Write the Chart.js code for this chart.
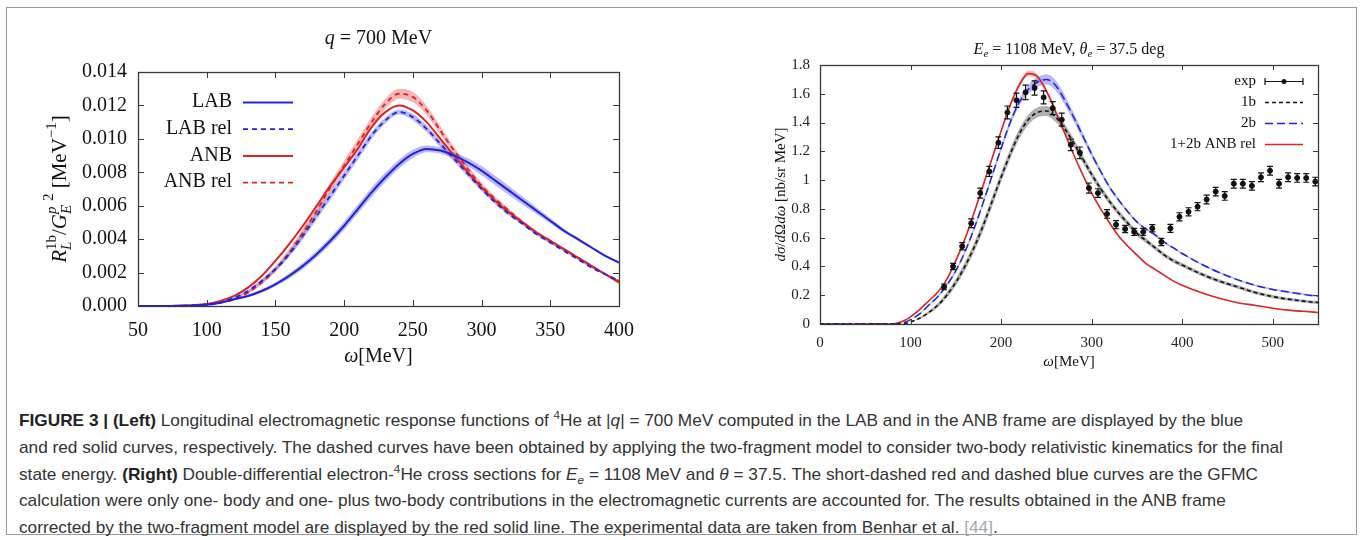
<!DOCTYPE html>
<html>
<head>
<meta charset="utf-8">
<script src="https://cdn.jsdelivr.net/npm/chart.js@4"></script>
<style>
  body { margin: 0; background: #fff; width: 1362px; height: 540px; position: relative; overflow: hidden; }
  #frame { position: absolute; left: 6px; top: 7px; width: 1349px; height: 526px; border: 1px solid #9a9a9a; }
  #left { position: absolute; left: 0; top: 0; }
  #right { position: absolute; left: 681px; top: 0; }
  #caption { position: absolute; left: 19px; top: 408px; font-family: "Liberation Sans", Arial, sans-serif;
             font-size: 17px; color: #333; line-height: 26.8px; transform-origin: 0 0; }
  #caption div { white-space: nowrap; }
  #caption b { color: #222; }
  #caption sup, #caption sub { font-size: 0.68em; line-height: 0; }
  .ref { color: #9aaabb; }
</style>
</head>
<body>
<div id="frame"></div>
<canvas id="left" width="681" height="390"></canvas>
<canvas id="right" width="681" height="390"></canvas>
<div id="caption">
  <div><span id="capLine1"><b>FIGURE 3 | (Left)</b> Longitudinal electromagnetic response functions of <sup>4</sup>He at |<i>q</i>| = 700 MeV computed in the LAB and in the ANB frame are displayed by the blue</span></div>
  <div>and red solid curves, respectively. The dashed curves have been obtained by applying the two-fragment model to consider two-body relativistic kinematics for the final</div>
  <div>state energy. <b>(Right)</b> Double-differential electron-<sup>4</sup>He cross sections for <i>E<sub>e</sub></i> = 1108 MeV and <i>θ</i> = 37.5. The short-dashed red and dashed blue curves are the GFMC</div>
  <div>calculation were only one- body and one- plus two-body contributions in the electromagnetic currents are accounted for. The results obtained in the ANB frame</div>
  <div>corrected by the two-fragment model are displayed by the red solid line. The experimental data are taken from Benhar et al. <span class="ref">[44]</span>.</div>
</div>
<script>
// left panel: q = 700 MeV, response functions
const leftOmega = [50, 60, 70, 80, 90, 100, 110, 120, 130, 140, 150, 160, 170, 180, 190, 200, 210, 220,
                   230, 240, 250, 260, 270, 280, 290, 300, 310, 320, 330, 340, 350, 360, 370, 380, 390, 400];
const labSolid = [0, 0, 0, 0.00001, 0.00003, 0.00008, 0.0002, 0.0004, 0.0006, 0.0009, 0.0013, 0.0018, 0.0024, 0.0031,
                  0.0039, 0.0048, 0.0058, 0.0068, 0.0077, 0.0085, 0.0091, 0.0094, 0.0093, 0.0090, 0.0086, 0.0081,
                  0.0075, 0.0069, 0.0063, 0.0057, 0.0051, 0.0045, 0.0040, 0.0035, 0.0030, 0.0026];
const labRel = [0, 0, 0, 0.00001, 0.00003, 0.0001, 0.0002, 0.0005, 0.0009, 0.0015, 0.0022, 0.0031, 0.0042, 0.0054,
                0.0066, 0.0078, 0.0090, 0.0102, 0.0111, 0.0116, 0.0113, 0.0106, 0.0097, 0.0088, 0.0079, 0.0070,
                0.0062, 0.0055, 0.0049, 0.0043, 0.0038, 0.0033, 0.0028, 0.0023, 0.0019, 0.0015];
const anbSolid = [0, 0, 0, 0.00002, 0.00005, 0.00012, 0.0003, 0.0006, 0.0011, 0.0018, 0.0027, 0.0037, 0.0048, 0.0060,
                  0.0072, 0.0083, 0.0094, 0.0107, 0.0116, 0.0120, 0.0117, 0.0110, 0.0100, 0.0090, 0.0080, 0.0071,
                  0.0063, 0.0056, 0.0050, 0.0044, 0.0039, 0.0034, 0.0029, 0.0024, 0.0019, 0.0014];
const anbRel = [0, 0, 0, 0.00001, 0.00003, 0.00008, 0.0002, 0.0004, 0.0008, 0.0014, 0.0022, 0.0032, 0.0044, 0.0057,
                0.0071, 0.0084, 0.0097, 0.0110, 0.0121, 0.0127, 0.0125, 0.0117, 0.0105, 0.0093, 0.0082, 0.0072,
                0.0064, 0.0057, 0.0050, 0.0044, 0.0039, 0.0034, 0.0029, 0.0024, 0.0019, 0.0015];
// half widths of the uncertainty bands
const labSolidErr = [0, 0, 0, 0, 0, 0, 0.00003, 0.00005, 0.00008, 0.0001, 0.00012, 0.00015, 0.00018, 0.0002, 0.00022,
                     0.00025, 0.00027, 0.00028, 0.00028, 0.00027, 0.00025, 0.0002, 0.00018, 0.0002, 0.00024, 0.00027,
                     0.00028, 0.00027, 0.00024, 0.0002, 0.00016, 0.00012, 0.0001, 0.00008, 0.00006, 0.00005];
const labRelErr = [0, 0, 0, 0, 0, 0, 0.00002, 0.00004, 0.00006, 0.0001, 0.00013, 0.00016, 0.0002, 0.00022, 0.00024,
                   0.00025, 0.00025, 0.00022, 0.00018, 0.00015, 0.00018, 0.0002, 0.0002, 0.00018, 0.00016, 0.00014,
                   0.00012, 0.0001, 0.00009, 0.00008, 0.00007, 0.00006, 0.00005, 0.00005, 0.00004, 0.00004];
const anbRelErr = [0, 0, 0, 0, 0, 0, 0.00002, 0.00005, 0.00008, 0.00012, 0.00016, 0.0002, 0.00024, 0.00027, 0.0003,
                   0.0003, 0.0003, 0.0003, 0.0003, 0.0003, 0.0003, 0.00028, 0.00025, 0.00022, 0.0002, 0.00017,
                   0.00014, 0.00012, 0.0001, 0.00009, 0.00008, 0.00007, 0.00006, 0.00006, 0.00005, 0.00005];

// right panel: cross sections, E_e = 1108 MeV
const rightOmega = [0, 20, 40, 60, 80, 90, 100, 110, 120, 130, 140, 150, 160, 170, 180, 190, 200, 210, 220, 230, 240,
                    250, 260, 270, 280, 290, 300, 310, 320, 330, 340, 350, 360, 370, 380, 390, 400,
                    420, 440, 460, 480, 500, 520, 540, 550];
const xs1b = [0, 0, 0, 0, 0, 0, 0.015, 0.04, 0.08, 0.13, 0.20, 0.29, 0.40, 0.53, 0.68, 0.85, 1.02, 1.18, 1.32, 1.42,
              1.47, 1.48, 1.44, 1.36, 1.26, 1.15, 1.04, 0.94, 0.85, 0.77, 0.70, 0.63, 0.58, 0.53, 0.48, 0.44, 0.41,
              0.35, 0.30, 0.26, 0.22, 0.19, 0.17, 0.155, 0.15];
const xs2b = [0, 0, 0, 0, 0, 0.005, 0.03, 0.07, 0.13, 0.19, 0.27, 0.37, 0.50, 0.66, 0.84, 1.03, 1.22, 1.40, 1.54, 1.63,
              1.68, 1.70, 1.66, 1.56, 1.44, 1.31, 1.18, 1.06, 0.95, 0.86, 0.78, 0.71, 0.66, 0.62, 0.57, 0.53, 0.49,
              0.42, 0.36, 0.31, 0.27, 0.24, 0.22, 0.20, 0.195];
const xsAnbRel = [0, 0, 0, 0, 0, 0.015, 0.05, 0.10, 0.16, 0.22, 0.31, 0.44, 0.59, 0.77, 0.96, 1.15, 1.34, 1.52, 1.66, 1.74,
                  1.72, 1.62, 1.48, 1.33, 1.18, 1.04, 0.91, 0.80, 0.70, 0.61, 0.54, 0.48, 0.42, 0.38, 0.34, 0.30, 0.27,
                  0.22, 0.18, 0.15, 0.13, 0.11, 0.095, 0.085, 0.08];
const xs1bErr = [0, 0, 0, 0, 0, 0, 0, 0.005, 0.01, 0.015, 0.02, 0.025, 0.03, 0.032, 0.035, 0.035, 0.035, 0.035, 0.035,
                 0.035, 0.035, 0.035, 0.035, 0.033, 0.03, 0.028, 0.025, 0.023, 0.021, 0.02, 0.019, 0.018, 0.017, 0.016,
                 0.015, 0.015, 0.014, 0.013, 0.012, 0.012, 0.011, 0.011, 0.01, 0.01, 0.01];
const xs2bErr = [0, 0, 0, 0, 0, 0, 0, 0.004, 0.006, 0.008, 0.01, 0.012, 0.014, 0.015, 0.016, 0.018, 0.02, 0.022, 0.026,
                 0.03, 0.034, 0.036, 0.036, 0.034, 0.03, 0.025, 0.02, 0.016, 0.013, 0.011, 0.01, 0.009, 0.008, 0.008,
                 0.007, 0.007, 0.007, 0.006, 0.006, 0.006, 0.006, 0.006, 0.006, 0.006, 0.006];
const xsAnbRelErr = [0, 0, 0, 0, 0, 0, 0, 0.003, 0.004, 0.005, 0.005, 0.006, 0.006, 0.007, 0.008, 0.009, 0.01, 0.014,
                     0.018, 0.02, 0.02, 0.016, 0.012, 0.008, 0.006, 0.005, 0.005, 0.004, 0.004, 0.004, 0.004, 0.003,
                     0.003, 0.003, 0.003, 0.003, 0.003, 0.003, 0.003, 0.003, 0.003, 0.003, 0.003, 0.003, 0.003];
const expOmega = [137, 147, 157, 167, 177, 187, 197, 207, 217, 227, 237, 247, 257, 267, 277, 287, 297, 307, 317, 327, 337,
                  347, 357, 367, 377, 387, 397, 407, 417, 427, 437, 447, 457, 467, 477, 487, 497, 507, 517, 527, 537, 547];
const expValue = [0.258, 0.40, 0.54, 0.70, 0.91, 1.06, 1.26, 1.47, 1.555, 1.61, 1.64, 1.575, 1.50, 1.42, 1.245, 1.19, 0.945,
                  0.91, 0.765, 0.69, 0.66, 0.64, 0.64, 0.665, 0.57, 0.665, 0.745, 0.78, 0.815, 0.865, 0.92, 0.89, 0.975,
                  0.975, 0.96, 1.02, 1.065, 0.975, 1.02, 1.015, 1.015, 0.99];
const expError = [0.02, 0.022, 0.025, 0.03, 0.035, 0.035, 0.04, 0.045, 0.05, 0.05, 0.05, 0.045, 0.045, 0.045, 0.04, 0.04,
                  0.035, 0.03, 0.03, 0.028, 0.025, 0.025, 0.025, 0.025, 0.025, 0.028, 0.028, 0.028, 0.028, 0.03, 0.03,
                  0.03, 0.03, 0.03, 0.03, 0.03, 0.03, 0.03, 0.03, 0.03, 0.03, 0.03];

const SERIF = '"Liberation Serif", "DejaVu Serif", serif';
const BLUE = '#2222dd';
const RED = '#dd2222';

function pts(xs, ys) {
    return xs.map((x, i) => ({ x: x, y: ys[i] }));
}

// draws text made of pieces (italic, sub/superscript), centred on cx, cy
function drawRich(ctx, segs, cx, cy, rot) {
    let x = 0, lastStart = 0;
    const parts = [];
    segs.forEach(s => {
        ctx.font = (s.it ? 'italic ' : '') + s.size + 'px ' + SERIF;
        const w = ctx.measureText(s.t).width;
        const start = s.stack ? lastStart : x;
        parts.push({ s: s, start: start, font: ctx.font });
        if (!s.stack) lastStart = start;
        x = s.stack ? Math.max(x, start + w) : start + w;
    });
    ctx.save();
    ctx.translate(cx, cy);
    if (rot) ctx.rotate(rot);
    ctx.fillStyle = '#111';
    ctx.textBaseline = 'alphabetic';
    ctx.textAlign = 'left';
    parts.forEach(p => {
        ctx.font = p.font;
        ctx.fillText(p.s.t, p.start - x / 2, (p.s.dy || 0) + segs[0].size * 0.33);
    });
    ctx.restore();
}

const framePlugin = {
    id: 'frame',
    afterDatasetsDraw(chart, args, opts) {
        const { ctx, chartArea: a, scales } = chart;
        const len = opts.len;
        ctx.save();
        ctx.strokeStyle = '#3a3a3a';
        ctx.lineWidth = 1;
        ctx.beginPath();
        scales.x.ticks.forEach(t => {
            const px = Math.round(scales.x.getPixelForValue(t.value)) + 0.5;
            ctx.moveTo(px, a.bottom); ctx.lineTo(px, a.bottom - len);
            ctx.moveTo(px, a.top); ctx.lineTo(px, a.top + len);
        });
        scales.y.ticks.forEach(t => {
            const py = Math.round(scales.y.getPixelForValue(t.value)) + 0.5;
            ctx.moveTo(a.left, py); ctx.lineTo(a.left + len, py);
            ctx.moveTo(a.right, py); ctx.lineTo(a.right - len, py);
        });
        ctx.stroke();
        ctx.lineWidth = 1.3;
        ctx.strokeRect(Math.round(a.left) + 0.5, Math.round(a.top) + 0.5,
                       Math.round(a.right - a.left), Math.round(a.bottom - a.top));
        ctx.restore();
    }
};

const errorBars = {
    id: 'errorBars',
    afterDatasetsDraw(chart, args, opts) {
        if (!opts.errors) return;
        const { ctx, scales: { x, y } } = chart;
        ctx.save();
        ctx.strokeStyle = '#111';
        ctx.lineWidth = 1.2;
        ctx.beginPath();
        opts.xs.forEach((v, i) => {
            const px = x.getPixelForValue(v);
            const top = y.getPixelForValue(opts.ys[i] + opts.errors[i]);
            const bot = y.getPixelForValue(opts.ys[i] - opts.errors[i]);
            ctx.moveTo(px, top); ctx.lineTo(px, bot);
            ctx.moveTo(px - 3, top); ctx.lineTo(px + 3, top);
            ctx.moveTo(px - 3, bot); ctx.lineTo(px + 3, bot);
        });
        ctx.stroke();
        ctx.restore();
    }
};

const labels = {
    id: 'labels',
    afterDraw(chart, args, opts) {
        const { ctx, chartArea: a } = chart;
        const mx = (a.left + a.right) / 2, my = (a.top + a.bottom) / 2;
        drawRich(ctx, opts.title, mx, a.top - opts.titleGap, 0);
        drawRich(ctx, opts.xTitle, mx, a.bottom + opts.xTitleGap, 0);
        drawRich(ctx, opts.yTitle, a.left - opts.yTitleGap, my, -Math.PI / 2);

        // legend: text right aligned, sample to the right
        ctx.save();
        ctx.font = opts.legendSize + 'px ' + SERIF;
        ctx.textAlign = 'right';
        ctx.textBaseline = 'middle';
        opts.legend.forEach((item, i) => {
            const y = a.top + opts.legendTop + i * opts.legendStep;
            ctx.fillStyle = '#111';
            ctx.fillText(item.label, opts.legendText, y);
            const ds = chart.data.datasets.find(d => d.label === item.label);
            const x1 = opts.legendText + opts.legendGap, x2 = x1 + opts.legendLen;
            if (ds.showLine === false) {
                ctx.strokeStyle = '#111';
                ctx.lineWidth = 1.2;
                ctx.beginPath();
                ctx.moveTo(x1, y + 0.5); ctx.lineTo(x2, y + 0.5);
                ctx.moveTo(x1, y - 3); ctx.lineTo(x1, y + 4);
                ctx.moveTo(x2, y - 3); ctx.lineTo(x2, y + 4);
                ctx.stroke();
                ctx.fillStyle = '#111';
                ctx.beginPath();
                ctx.arc((x1 + x2) / 2, y + 0.5, 2.5, 0, Math.PI * 2);
                ctx.fill();
            } else {
                ctx.strokeStyle = ds.borderColor;
                ctx.lineWidth = ds.borderWidth;
                ctx.setLineDash(ds.borderDash || []);
                ctx.beginPath();
                ctx.moveTo(x1, y + 0.5); ctx.lineTo(x2, y + 0.5);
                ctx.stroke();
                ctx.setLineDash([]);
            }
        });
        ctx.restore();
    }
};

function line(label, xs, ys, color, width, dash) {
    return {
        label: label, data: pts(xs, ys), borderColor: color, borderWidth: width, borderDash: dash,
        pointRadius: 0, fill: false, cubicInterpolationMode: 'monotone', order: 1
    };
}

// uncertainty band: lower edge, then upper edge filled down to it
function band(xs, ys, half, color) {
    const edge = (sign) => ({
        label: 'band', data: xs.map((x, i) => ({ x: x, y: ys[i] + sign * half[i] })),
        borderWidth: 0, pointRadius: 0, cubicInterpolationMode: 'monotone', order: 5
    });
    const lower = edge(-1);
    lower.fill = false;
    const upper = edge(1);
    upper.fill = '-1';
    upper.backgroundColor = color;
    return [lower, upper];
}

function axisFont(size) {
    return { family: SERIF, size: size };
}

// left chart
new Chart(document.getElementById('left'), {
    type: 'line',
    data: {
        datasets: [
            ...band(leftOmega, labSolid, labSolidErr, 'rgba(100,100,230,0.45)'),
            ...band(leftOmega, labRel, labRelErr, 'rgba(100,100,230,0.45)'),
            ...band(leftOmega, anbRel, anbRelErr, 'rgba(230,90,90,0.45)'),
            line('LAB', leftOmega, labSolid, BLUE, 2, []),
            line('LAB rel', leftOmega, labRel, BLUE, 1.8, [5, 4]),
            line('ANB', leftOmega, anbSolid, RED, 2, []),
            line('ANB rel', leftOmega, anbRel, RED, 1.8, [5, 4])
        ]
    },
    options: {
        responsive: false,
        animation: false,
        devicePixelRatio: 1,
        layout: { padding: { left: 0, right: 62, top: 72, bottom: 0 } },
        scales: {
            x: {
                type: 'linear', min: 50, max: 400,
                ticks: { stepSize: 50, padding: 13, color: '#111', font: axisFont(20), maxRotation: 0 },
                grid: { display: false, drawTicks: false }, border: { display: false },
                afterFit: s => { s.height = 84; }
            },
            y: {
                min: 0, max: 0.014,
                ticks: { stepSize: 0.002, padding: 11, color: '#111', font: axisFont(20),
                         callback: v => v.toFixed(3) },
                grid: { display: false, drawTicks: false }, border: { display: false },
                afterFit: s => { s.width = 138; }
            }
        },
        plugins: {
            legend: { display: false },
            tooltip: { enabled: false },
            frame: { len: 6 },
            labels: {
                title: [{ t: 'q', it: 1, size: 20 }, { t: ' = 700 MeV', size: 20 }],
                titleGap: 35,
                xTitle: [{ t: 'ω', it: 1, size: 20 }, { t: '[MeV]', size: 20 }],
                xTitleGap: 49,
                yTitle: [{ t: 'R', it: 1, size: 21 }, { t: 'L', it: 1, size: 15, dy: 5 },
                         { t: '1b', size: 15, dy: -10, stack: 1 }, { t: '/', size: 21 },
                         { t: 'G', it: 1, size: 21 }, { t: 'E', it: 1, size: 15, dy: 5 },
                         { t: 'p', it: 1, size: 15, dy: -10, stack: 1 }, { t: ' 2', size: 15, dy: -13 },
                         { t: ' [MeV', size: 21 }, { t: '−1', size: 15, dy: -10 }, { t: ']', size: 21 }],
                yTitleGap: 79,
                legend: [{ label: 'LAB' }, { label: 'LAB rel' }, { label: 'ANB' }, { label: 'ANB rel' }],
                legendSize: 20, legendTop: 30, legendStep: 26.7,
                legendText: 232, legendGap: 11, legendLen: 50
            }
        }
    },
    plugins: [framePlugin, labels]
});

// right chart
new Chart(document.getElementById('right'), {
    type: 'line',
    data: {
        datasets: [
            ...band(rightOmega, xs1b, xs1bErr, 'rgba(80,80,80,0.45)'),
            ...band(rightOmega, xs2b, xs2bErr, 'rgba(100,100,230,0.45)'),
            ...band(rightOmega, xsAnbRel, xsAnbRelErr, 'rgba(230,90,90,0.4)'),
            {
                label: 'exp', data: pts(expOmega, expValue), showLine: false, pointRadius: 2.5,
                pointBackgroundColor: '#111', pointBorderColor: '#111', order: 0
            },
            line('1b', rightOmega, xs1b, '#111', 1.6, [4, 3]),
            line('2b', rightOmega, xs2b, BLUE, 1.5, [8, 4]),
            line('1+2b ANB rel', rightOmega, xsAnbRel, RED, 1.6, [])
        ]
    },
    options: {
        responsive: false,
        animation: false,
        devicePixelRatio: 1,
        layout: { padding: { left: 0, right: 44, top: 65, bottom: 0 } },
        scales: {
            x: {
                type: 'linear', min: 0, max: 550,
                ticks: { stepSize: 100, padding: 10, color: '#222', font: axisFont(15), maxRotation: 0 },
                grid: { display: false, drawTicks: false }, border: { display: false },
                afterBuildTicks: s => { s.ticks = s.ticks.filter(t => t.value % 100 === 0); },
                afterFit: s => { s.height = 66; }
            },
            y: {
                min: 0, max: 1.8,
                ticks: { stepSize: 0.2, padding: 10, color: '#222', font: axisFont(15),
                         callback: v => String(+v.toFixed(1)) },
                grid: { display: false, drawTicks: false }, border: { display: false },
                afterFit: s => { s.width = 139; }
            }
        },
        plugins: {
            legend: { display: false },
            tooltip: { enabled: false },
            frame: { len: 5 },
            errorBars: { xs: expOmega, ys: expValue, errors: expError },
            labels: {
                title: [{ t: 'E', it: 1, size: 16 }, { t: 'e', it: 1, size: 11, dy: 3 },
                        { t: ' = 1108 MeV, ', size: 16 }, { t: 'θ', it: 1, size: 16 },
                        { t: 'e', it: 1, size: 11, dy: 3 }, { t: ' = 37.5 deg', size: 16 }],
                titleGap: 16,
                xTitle: [{ t: 'ω', it: 1, size: 15 }, { t: '[MeV]', size: 15 }],
                xTitleGap: 37,
                yTitle: [{ t: 'dσ', it: 1, size: 15 }, { t: '/', size: 15 }, { t: 'd', it: 1, size: 15 },
                         { t: 'Ω', size: 15 }, { t: 'dω', it: 1, size: 15 }, { t: ' [nb/sr MeV]', size: 15 }],
                yTitleGap: 40,
                legend: [{ label: 'exp' }, { label: '1b' }, { label: '2b' }, { label: '1+2b ANB rel' }],
                legendSize: 15, legendTop: 16, legendStep: 21,
                legendText: 575, legendGap: 9, legendLen: 38
            }
        }
    },
    plugins: [framePlugin, errorBars, labels]
});

// squeeze the caption horizontally so its first line ends where the figure's does
const cap = document.getElementById('caption');
const w = document.getElementById('capLine1').getBoundingClientRect().width;
cap.style.transform = 'scaleX(' + (1224 / w).toFixed(4) + ')';
</script>
</body>
</html>
